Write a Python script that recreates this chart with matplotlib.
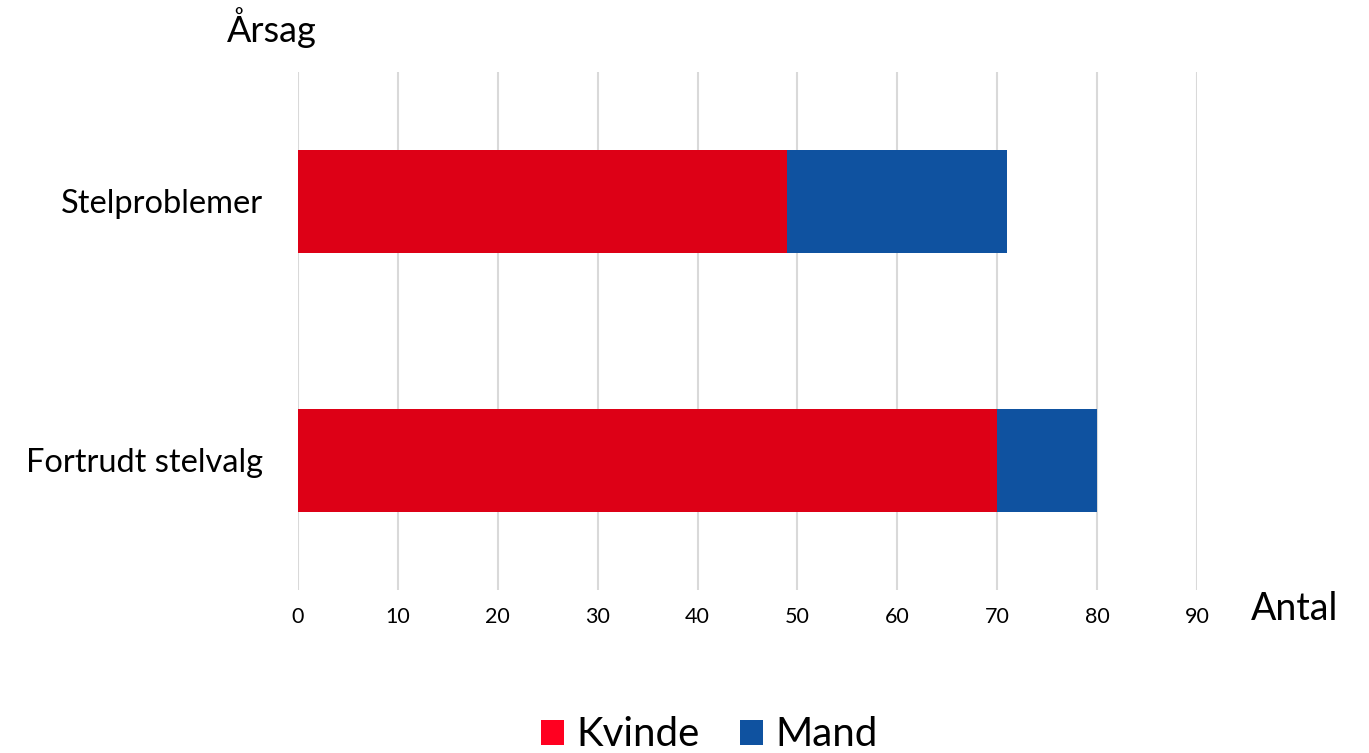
import numpy as np
import matplotlib.pyplot as plt
from matplotlib.patches import Patch

# data
categories = ['Fortrudt stelvalg', 'Stelproblemer']
kvinde = [70, 49]
mand = [10, 22]
x_ticks = [0, 10, 20, 30, 40, 50, 60, 70, 80, 90]

# colors
red_bar = '#DD0016'
red_legend = '#FF0020'
blue = '#0F52A0'
grid_color = '#D9D9D9'

plt.rcParams['font.family'] = ['Lato', 'DejaVu Sans']

fig = plt.figure(figsize=(13.69, 7.53), dpi=100)
ax = fig.add_axes([298 / 1369, 1 - 590 / 753, (1197 - 298) / 1369, (590 - 72) / 753])

y = np.arange(len(categories))
ax.barh(y, kvinde, height=0.4, color=red_bar, zorder=3)
ax.barh(y, mand, left=kvinde, height=0.4, color=blue, zorder=3)

ax.set_xlim(0, 90)
ax.set_ylim(-0.5, 1.5)
ax.set_xticks(x_ticks)
ax.set_yticks(y)
ax.set_yticklabels(categories, fontsize=23.5)
ax.tick_params(axis='x', labelsize=15.5, length=0, pad=12)
ax.tick_params(axis='y', length=0, pad=25)
ax.xaxis.grid(True, color=grid_color, linewidth=1.5, zorder=0)
ax.set_axisbelow(True)
for s in ax.spines.values():
    s.set_visible(False)

# axis titles
fig.text(272 / 1369, 1 - 28 / 753, 'Årsag', fontsize=26, ha='center', va='center')
fig.text(1295 / 1369, 1 - 609 / 753, 'Antal', fontsize=27, ha='center', va='center')

# legend
handles = [Patch(facecolor=red_legend, label='Kvinde'), Patch(facecolor=blue, label='Mand')]
fig.legend(handles=handles, loc='center', bbox_to_anchor=(709 / 1369, 1 - 735 / 753),
           ncol=2, frameon=False, fontsize=29, handlelength=0.58, handleheight=0.58,
           handletextpad=0.3, columnspacing=1.0)

fig.savefig('out.png', dpi=100)
